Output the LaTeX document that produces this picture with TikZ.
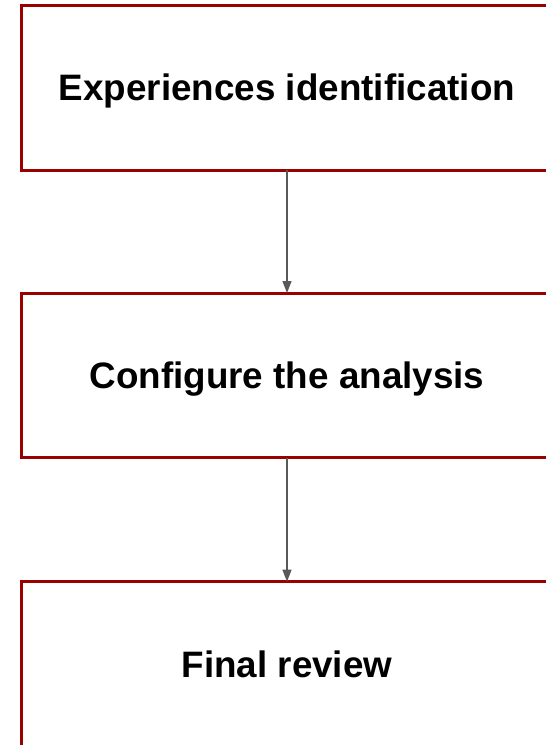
\documentclass[tikz,border=0pt]{standalone}
\usepackage{fontspec}
\setmainfont{Liberation Sans}
\usepackage{xcolor}
\usepackage{tikz}
\usetikzlibrary{arrows.meta}
\usetikzlibrary{positioning}
\definecolor{boxred}{HTML}{990000}
\definecolor{linegray}{HTML}{595959}
\tikzset{
	stepbox/.style={draw=boxred, line width=3pt, outer sep=0pt, inner sep=0pt, minimum width=532pt, minimum height=164.7pt, anchor=north west, align=center, text height=26.3pt, text depth=0pt, font=\fontsize{36.8}{40}\selectfont\bfseries},
	flow/.style={->, draw=linegray, line width=1.3pt}
}

\begin{document}
\begin{tikzpicture}[>={Triangle[length=12pt,width=9pt]}, x=1pt, y=1pt]
		\useasboundingbox (0,0) rectangle (546,-745);
		%coordinates
		\coordinate (ULident)  at (21,-5.3);
		\coordinate (ULconfig) at (21,-293);
		\coordinate (ULreview) at (21,-581.7);

		%nodes
		\node[stepbox] (ident)  at (ULident)  {Experiences identification};
		\node[stepbox] (config) at (ULconfig) {Configure the analysis};
		\node[stepbox] (review) at (ULreview) {Final review};

		\draw[flow] (ident.south) -- (config.north);
		\draw[flow] (config.south) -- (review.north);
		\end{tikzpicture}
\end{document}
